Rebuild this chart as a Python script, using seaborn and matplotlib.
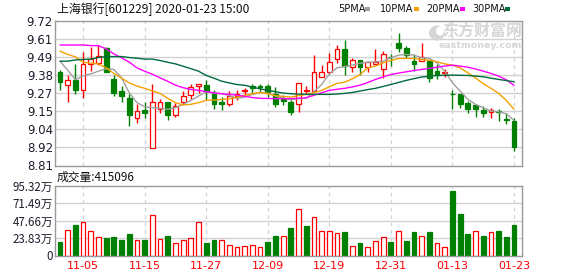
import matplotlib
matplotlib.use("Agg")
import matplotlib.pyplot as plt
from matplotlib.patches import Rectangle, Ellipse
import numpy as np
import pandas as pd
import seaborn as sns

# ---------------- data ----------------
dates = ["10-31", "11-01", "11-04", "11-05", "11-06", "11-07", "11-08", "11-11", "11-12", "11-13",
         "11-14", "11-15", "11-18", "11-19", "11-20", "11-21", "11-22", "11-25", "11-26", "11-27",
         "11-28", "11-29", "12-02", "12-03", "12-04", "12-05", "12-06", "12-09", "12-10", "12-11",
         "12-12", "12-13", "12-16", "12-17", "12-18", "12-19", "12-20", "12-23", "12-24", "12-25",
         "12-26", "12-27", "12-30", "12-31", "01-02", "01-03", "01-06", "01-07", "01-08", "01-09",
         "01-10", "01-13", "01-14", "01-15", "01-16", "01-17", "01-20", "01-21", "01-22", "01-23"]

opens = [9.40, 9.32, 9.35, 9.285, 9.452, 9.456, 9.553, 9.352, 9.277, 9.233,
         9.112, 9.157, 8.923, 9.168, 9.208, 9.128, 9.21, 9.252, 9.31, 9.314,
         9.266, 9.208, 9.199, 9.245, 9.277, 9.312, 9.31, 9.308, 9.26, 9.228,
         9.208, 9.199, 9.277, 9.281, 9.369, 9.40, 9.482, 9.546, 9.431, 9.475,
         9.429, 9.45, 9.419, 9.496, 9.584, 9.553, 9.465, 9.469, 9.467, 9.402,
         9.394, 9.262, 9.258, 9.206, 9.189, 9.162, 9.147, 9.155, 9.10, 9.09]

closes = [9.335, 9.35, 9.285, 9.452, 9.482, 9.50, 9.398, 9.266, 9.247, 9.13,
          9.155, 9.14, 9.212, 9.212, 9.128, 9.187, 9.245, 9.306, 9.325, 9.281,
          9.197, 9.195, 9.247, 9.258, 9.285, 9.297, 9.305, 9.275, 9.199, 9.216,
          9.147, 9.331, 9.283, 9.40, 9.40, 9.463, 9.544, 9.436, 9.473, 9.429,
          9.46, 9.463, 9.515, 9.492, 9.549, 9.509, 9.45, 9.494, 9.362, 9.383,
          9.40, 9.259, 9.199, 9.168, 9.168, 9.14, 9.162, 9.145, 9.097, 8.927]

highs = [9.41, 9.383, 9.45, 9.523, 9.555, 9.571, 9.557, 9.377, 9.308, 9.258,
         9.195, 9.212, 9.325, 9.227, 9.212, 9.204, 9.277, 9.325, 9.325, 9.346,
         9.283, 9.243, 9.277, 9.283, 9.30, 9.325, 9.325, 9.325, 9.306, 9.252,
         9.22, 9.331, 9.308, 9.503, 9.446, 9.52, 9.571, 9.599, 9.488, 9.475,
         9.46, 9.546, 9.53, 9.515, 9.647, 9.565, 9.513, 9.582, 9.477, 9.45,
         9.42, 9.283, 9.262, 9.216, 9.189, 9.183, 9.17, 9.165, 9.14, 9.107]

lows = [9.283, 9.21, 9.258, 9.237, 9.404, 9.446, 9.398, 9.247, 9.21, 9.059,
        9.08, 9.11, 8.923, 9.139, 9.095, 9.116, 9.195, 9.231, 9.264, 9.22,
        9.168, 9.16, 9.183, 9.224, 9.252, 9.264, 9.272, 9.241, 9.178, 9.19,
        9.13, 9.147, 9.258, 9.274, 9.369, 9.385, 9.456, 9.377, 9.40, 9.383,
        9.40, 9.45, 9.362, 9.436, 9.523, 9.488, 9.404, 9.467, 9.337, 9.356,
        9.366, 9.168, 9.174, 9.143, 9.116, 9.116, 9.11, 9.09, 9.07, 8.90]

ma5 = [9.467, 9.41, 9.35, 9.375, 9.387, 9.404, 9.419, 9.415, 9.362, 9.268,
       9.206, 9.18, 9.174, 9.17, 9.164, 9.174, 9.195, 9.22, 9.247, 9.275,
       9.266, 9.262, 9.25, 9.233, 9.241, 9.258, 9.27, 9.266, 9.247, 9.233,
       9.224, 9.231, 9.233, 9.275, 9.32, 9.387, 9.425, 9.433, 9.442, 9.454,
       9.461, 9.463, 9.467, 9.488, 9.505, 9.509, 9.505, 9.488, 9.484, 9.457,
       9.404, 9.331, 9.279, 9.227, 9.195, 9.174, 9.153, 9.149, 9.136, 9.094]

ma10 = [9.53, 9.51, 9.494, 9.46, 9.455, 9.45, 9.425, 9.39, 9.36, 9.33,
        9.31, 9.296, 9.28, 9.264, 9.233, 9.206, 9.191, 9.195, 9.206, 9.22,
        9.222, 9.226, 9.23, 9.24, 9.252, 9.262, 9.27, 9.262, 9.25, 9.245,
        9.241, 9.25, 9.258, 9.268, 9.283, 9.306, 9.327, 9.335, 9.356, 9.383,
        9.425, 9.436, 9.457, 9.471, 9.484, 9.484, 9.484, 9.477, 9.473, 9.463,
        9.45, 9.442, 9.425, 9.394, 9.362, 9.325, 9.296, 9.264, 9.22, 9.164]

ma20 = [9.569, 9.569, 9.569, 9.569, 9.565, 9.565, 9.544, 9.513, 9.488, 9.461,
        9.425, 9.404, 9.385, 9.362, 9.34, 9.316, 9.30, 9.289, 9.283, 9.275,
        9.268, 9.262, 9.258, 9.254, 9.245, 9.238, 9.233, 9.232, 9.231, 9.231,
        9.231, 9.233, 9.237, 9.252, 9.268, 9.283, 9.29, 9.296, 9.305, 9.316,
        9.333, 9.352, 9.368, 9.383, 9.392, 9.40, 9.408, 9.415, 9.422, 9.429,
        9.436, 9.442, 9.436, 9.429, 9.418, 9.404, 9.39, 9.373, 9.35, 9.314]

ma30 = [9.467, 9.467, 9.475, 9.478, 9.48, 9.49, 9.496, 9.496, 9.496, 9.49,
        9.486, 9.48, 9.48, 9.471, 9.46, 9.45, 9.435, 9.42, 9.404, 9.377,
        9.36, 9.341, 9.33, 9.32, 9.315, 9.304, 9.293, 9.283, 9.275, 9.266,
        9.262, 9.26, 9.258, 9.258, 9.258, 9.258, 9.26, 9.264, 9.27, 9.279,
        9.288, 9.296, 9.308, 9.32, 9.333, 9.346, 9.357, 9.367, 9.372, 9.377,
        9.378, 9.379, 9.378, 9.377, 9.373, 9.369, 9.36, 9.352, 9.345, 9.337]

# volume in 万 shares
volume = [18.4, 35.5, 41.4, 45.6, 33.2, 25.8, 23.5, 24.9, 20.7, 29.0,
          20.7, 20.7, 56.2, 23.0, 26.2, 16.6, 20.7, 24.4, 46.5, 16.6,
          20.7, 20.7, 14.7, 12.0, 13.4, 14.7, 12.0, 18.0, 26.2, 26.2,
          37.3, 63.1, 40.1, 53.4, 34.1, 33.2, 31.3, 31.8, 13.4, 16.6,
          12.0, 20.3, 25.8, 18.0, 34.1, 19.3, 31.8, 27.2, 31.8, 17.5,
          12.0, 88.4, 56.6, 29.0, 34.1, 26.2, 32.7, 34.1, 24.9, 41.51]

# 1 = rising day (red hollow bar), 0 = falling day (green solid bar)
vol_up = [0, 1, 0, 1, 1, 1, 0, 0, 0, 0,
          1, 0, 1, 1, 0, 1, 1, 1, 1, 0,
          0, 1, 1, 1, 1, 1, 1, 0, 0, 1,
          0, 1, 0, 1, 1, 1, 1, 0, 1, 0,
          1, 1, 1, 0, 1, 0, 0, 1, 0, 1,
          1, 0, 0, 0, 1, 0, 1, 0, 0, 0]

price_tick_labels = ["8.81", "8.92", "9.04", "9.15", "9.27", "9.38", "9.49", "9.61", "9.72"]
price_min, price_max = 8.81, 9.72
vol_ticks = [0, 23.83, 47.66, 71.49, 95.32]
vol_tick_labels = ["0", "23.83万", "47.66万", "71.49万", "95.32万"]
date_tick_labels = ["11-05", "11-15", "11-27", "12-09", "12-19", "12-31", "01-13", "01-23"]

title_text = "上海银行[601229] 2020-01-23 15:00"
vol_title = "成交量:415096"
ma_names = ["5PMA", "10PMA", "20PMA", "30PMA"]

# ---------------- style ----------------
sns.set_theme(style="white")
plt.rcParams['font.family'] = ['DejaVu Sans', 'Noto Sans CJK SC']

RED = "#ff0000"
GREEN = "#008000"
MA_COLORS = ["#a0a0a0", "#f5a000", "#ff00ff", "#006b3c"]
GRID = "#d2d2d2"
SPINE = "#9a9a9a"
TXT = "#1e1e2e"
WM = "#d6d6d6"

W, H = 578, 276
fig = plt.figure(figsize=(W / 100, H / 100), dpi=100)
fig.patch.set_facecolor("white")

axp = fig.add_axes([55 / W, 1 - 165.5 / H, 467 / W, (165.5 - 21) / H])
axv = fig.add_axes([55 / W, 1 - 255.5 / H, 467 / W, (255.5 - 186) / H])

df = pd.DataFrame({"date": dates, "open": opens, "close": closes, "high": highs, "low": lows,
                   "ma5": ma5, "ma10": ma10, "ma20": ma20, "ma30": ma30,
                   "vol": volume, "vol_up": vol_up})
df["x"] = np.arange(len(df))

x_ticks = [dates.index(d) for d in date_tick_labels]
xlim = (-0.65, len(df) - 1 + 1.04)
price_ticks = np.linspace(price_min, price_max, len(price_tick_labels))

for ax in (axp, axv):
    ax.set_facecolor("white")
    ax.set_xlim(*xlim)
    for s in ax.spines.values():
        s.set_color(SPINE)
        s.set_linewidth(1.0)
        s.set_visible(True)
    for xt in x_ticks:
        ax.axvline(xt, color=GRID, lw=0.9, ls=(0, (3, 3)), zorder=0)
    ax.tick_params(axis="both", length=0)

# ---- price panel ----
axp.set_ylim(price_min, price_max)
for yt in price_ticks[1:-1]:
    axp.axhline(yt, color=GRID, lw=1.0, zorder=0)
axp.set_yticks(price_ticks)
axp.set_yticklabels(price_tick_labels, fontsize=8.5, color=TXT)
axp.tick_params(axis="y", pad=1.5)
axp.set_xticks([])

bw = 0.62
for _, r in df.iterrows():
    up = r["close"] >= r["open"]
    c = RED if up else GREEN
    lo_b, hi_b = min(r["open"], r["close"]), max(r["open"], r["close"])
    if up:
        axp.plot([r["x"], r["x"]], [r["low"], lo_b], color=c, lw=1.0, zorder=2, solid_capstyle="butt")
        axp.plot([r["x"], r["x"]], [hi_b, r["high"]], color=c, lw=1.0, zorder=2, solid_capstyle="butt")
    else:
        axp.plot([r["x"], r["x"]], [r["low"], r["high"]], color=c, lw=1.0, zorder=2, solid_capstyle="butt")
    h = max(hi_b - lo_b, 0.0015)
    axp.add_patch(Rectangle((r["x"] - bw / 2, lo_b), bw, h,
                            facecolor="white" if up else c, edgecolor=c, lw=0.9, zorder=2))

for col, color in zip(["ma5", "ma10", "ma20", "ma30"], MA_COLORS):
    sns.lineplot(data=df, x="x", y=col, ax=axp, color=color, lw=1.0, zorder=3, legend=False)
axp.set_xlabel("")
axp.set_ylabel("")
axp.set_xlim(*xlim)

# watermark (drawn in figure pixels)
fig.text(522 / W, 1 - 31 / H, "东方财富网", ha="right", va="center",
         fontsize=11.5, fontweight="bold", color=WM, family=["Noto Sans CJK SC"], zorder=1)
fig.text(522 / W, 1 - 45 / H, "eastmoney.com", ha="right", va="center",
         fontsize=6.8, fontweight="bold", color=WM, zorder=1)
fig.patches.append(Ellipse((437 / W, 1 - 33 / H), 16 / W, 15 / H, transform=fig.transFigure,
                           facecolor=WM, edgecolor="none", zorder=1))
fig.patches.append(Ellipse((440 / W, 1 - 31 / H), 8 / W, 9 / H, transform=fig.transFigure,
                           facecolor="white", edgecolor="none", zorder=1))

# ---- volume panel ----
axv.set_ylim(0, vol_ticks[-1])
for yt in vol_ticks[1:-1]:
    axv.axhline(yt, color=GRID, lw=1.0, zorder=0)
up_mask = df["vol_up"] == 1
axv.bar(df.loc[up_mask, "x"], df.loc[up_mask, "vol"], width=bw, facecolor="white",
        edgecolor=RED, lw=0.9, zorder=2)
axv.bar(df.loc[~up_mask, "x"], df.loc[~up_mask, "vol"], width=bw, facecolor=GREEN,
        edgecolor=GREEN, lw=0.9, zorder=2)
axv.set_yticks(vol_ticks)
axv.set_yticklabels(vol_tick_labels, fontsize=8.3, color=TXT,
                    family=["Liberation Sans Narrow", "Noto Sans CJK SC"])
axv.tick_params(axis="y", pad=1.5)
axv.set_xticks(x_ticks)
axv.set_xticklabels(date_tick_labels, fontsize=8, color=RED)
axv.tick_params(axis="x", pad=4)

# ---- header texts ----
fig.text(57 / W, 1 - 9 / H, title_text, ha="left", va="center", fontsize=8.6, color="#111111",
         family=["Noto Sans CJK SC", "DejaVu Sans"])
fig.text(57 / W, 1 - 177 / H, vol_title, ha="left", va="center", fontsize=8.5, color="#111111",
         family=["Noto Sans CJK SC", "DejaVu Sans"])

# MA legend
leg_x = [338, 380, 426, 472]
sq_x = [365, 414, 460, 505]
for name, tx, sx, color in zip(ma_names, leg_x, sq_x, MA_COLORS):
    fig.text(tx / W, 1 - 9 / H, name, ha="left", va="center", fontsize=7, color="#111111")
    fig.patches.append(Rectangle((sx / W, 1 - 11 / H), 5 / W, 4 / H, transform=fig.transFigure,
                                 facecolor=color, edgecolor="none"))

fig.savefig("out.png", dpi=100, facecolor="white")
